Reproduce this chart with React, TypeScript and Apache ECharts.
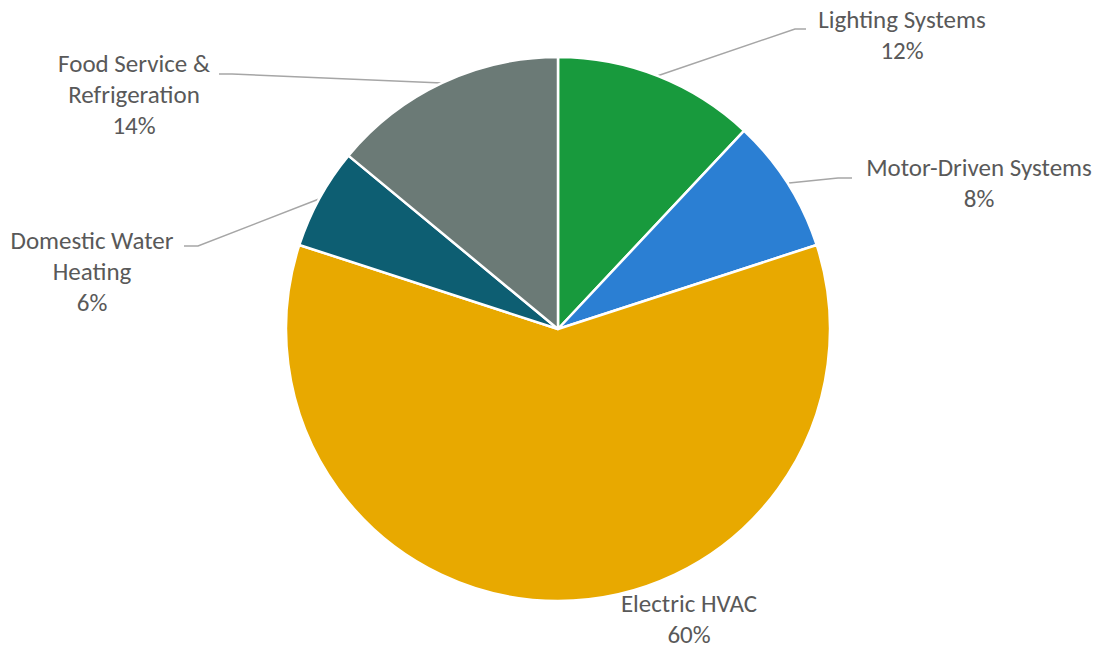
import React, { useEffect, useRef } from "react";
import * as echarts from "echarts";

const categories = [
  "Lighting Systems",
  "Motor-Driven Systems",
  "Electric HVAC",
  "Domestic Water Heating",
  "Food Service & Refrigeration",
];
const labelTexts = [
  "Lighting Systems",
  "Motor-Driven Systems",
  "Electric HVAC",
  "Domestic Water\nHeating",
  "Food Service &\nRefrigeration",
];
const values = [12, 8, 60, 6, 14];
const colors = ["#189a3d", "#2b7fd3", "#e8a900", "#0d5e72", "#6b7a76"];

// label anchor positions (center x, top y) and leader lines
const labelPos: [number, number][] = [
  [902, 4],
  [979, 152],
  [689, 588],
  [92, 225],
  [134, 48],
];
const leaderLines: ([number, number][] | null)[] = [
  [[657, 76], [795, 29], [806, 29]],
  [[789, 183], [838, 178], [852, 178]],
  null,
  [[319, 199], [198, 246], [184, 246]],
  [[442, 83], [232, 74], [219, 74]],
];

export default function App() {
  const ref = useRef<HTMLDivElement>(null);
  useEffect(() => {
    if (!ref.current) return;
    const chart = echarts.init(ref.current, undefined, { renderer: "svg" });
    chart.setOption({
      animation: false,
      backgroundColor: "#ffffff",
      series: [
        {
          type: "pie",
          center: [558, 329],
          radius: 272,
          startAngle: 90,
          clockwise: true,
          avoidLabelOverlap: false,
          itemStyle: { borderColor: "#ffffff", borderWidth: 2.5 },
          label: {
            show: true,
            position: "outside",
            color: "#595959",
            fontFamily: "Carlito, Lato, sans-serif",
            fontSize: 25,
            lineHeight: 31,
            align: "center",
            formatter: (p: any) => `${labelTexts[p.dataIndex]}\n${values[p.dataIndex]}%`,
          },
          labelLine: {
            show: true,
            lineStyle: { color: "#a6a6a6", width: 1.5 },
          },
          labelLayout: (p: any) => {
            const i = p.dataIndex;
            const res: any = {
              x: labelPos[i][0],
              y: labelPos[i][1],
              align: "center",
              verticalAlign: "top",
            };
            if (leaderLines[i]) res.labelLinePoints = leaderLines[i];
            return res;
          },
          data: categories.map((name, i) => ({
            name,
            value: values[i],
            itemStyle: { color: colors[i] },
            labelLine: { show: leaderLines[i] !== null },
          })),
        },
      ],
    });
    return () => chart.dispose();
  }, []);
  return (
    <div
      ref={ref}
      style={{ position: "absolute", left: 0, top: 0, width: 1107, height: 652 }}
    />
  );
}
